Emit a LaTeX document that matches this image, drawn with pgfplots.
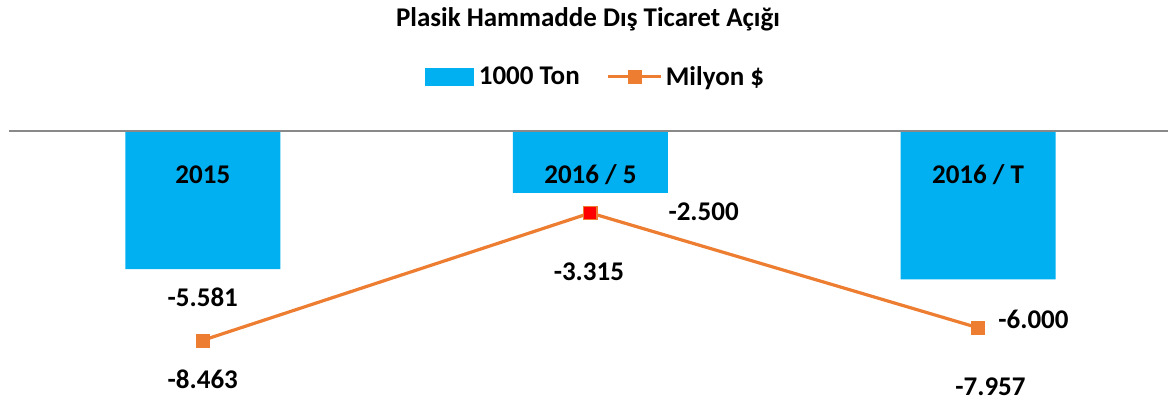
\documentclass[border=0pt]{standalone}
\usepackage{pgfplots}
\pgfplotsset{compat=1.18}
\usepackage{fontspec}
\setmainfont{Carlito}
\definecolor{barblue}{HTML}{00B0F0}
\definecolor{lineor}{HTML}{ED7D31}
\definecolor{zerogray}{HTML}{898989}
\newcommand{\lbl}{\bfseries\fontsize{27bp}{30bp}\selectfont}
\pgfplotsset{
  barlegend/.style={legend image code/.code={\fill[barblue] (0bp,-9bp) rectangle (49bp,9bp); \path (52bp,0bp);}},
  linelegend/.style={legend image code/.code={\draw[##1, mark repeat=2, mark phase=2] plot coordinates {(0bp,0bp) (26.5bp,0bp) (53bp,0bp)}; \path (54bp,0bp);}},
}
\begin{document}
\begin{tikzpicture}
\useasboundingbox (0bp,0bp) rectangle (1168bp,403bp);
\begin{axis}[at={(9bp,0bp)}, anchor=south west, scale only axis,
  width=1159bp, height=272bp,
  xmin=-0.5, xmax=2.49, ymin=-11, ymax=0,
  axis lines=none, clip=false,
  legend columns=2,
  legend style={at={(0.506,1.199)}, anchor=center, draw=none, fill=none,
    font=\lbl, /tikz/every even column/.append style={column sep=25bp}},
]
\addplot[ybar, bar width=155bp, fill=barblue, draw=none, barlegend]
  coordinates {(0,-5.581) (1,-2.5) (2,-6)};
\addlegendentry{1000 Ton}
\addplot[lineor, line width=3.2bp, mark=square*, mark size=6.5bp,
  mark options={fill=lineor, draw=lineor, line width=0.5bp}, linelegend]
  coordinates {(0,-8.463) (1,-3.315) (2,-7.957)};
\addlegendentry{Milyon \$}
\addplot[only marks, mark=square*, mark size=6.5bp,
  mark options={fill=red, draw=lineor, line width=1bp}, forget plot]
  coordinates {(1,-3.315)};
\draw[zerogray, line width=2bp] (rel axis cs:0,1) -- (rel axis cs:1.005,1);
% category labels
\node[font=\lbl] at (axis cs:0,-1.77) {2015};
\node[font=\lbl] at (axis cs:1,-1.77) {2016 / 5};
\node[font=\lbl] at (axis cs:2,-1.77) {2016 / T};
% bar value labels
\node[font=\lbl] at (axis cs:0,-6.73) {-5.581};
\node[font=\lbl] at (axis cs:1.292,-3.27) {-2.500};
\node[font=\lbl] at (axis cs:2.143,-7.62) {-6.000};
% line value labels
\node[font=\lbl] at (axis cs:0,-10.04) {-8.463};
\node[font=\lbl] at (axis cs:0.996,-5.69) {-3.315};
\node[font=\lbl] at (axis cs:2.032,-10.36) {-7.957};
\end{axis}
\node[font=\lbl] at (588bp,384bp) {Plasik Hammadde Dış Ticaret Açığı};
\end{tikzpicture}
\end{document}
